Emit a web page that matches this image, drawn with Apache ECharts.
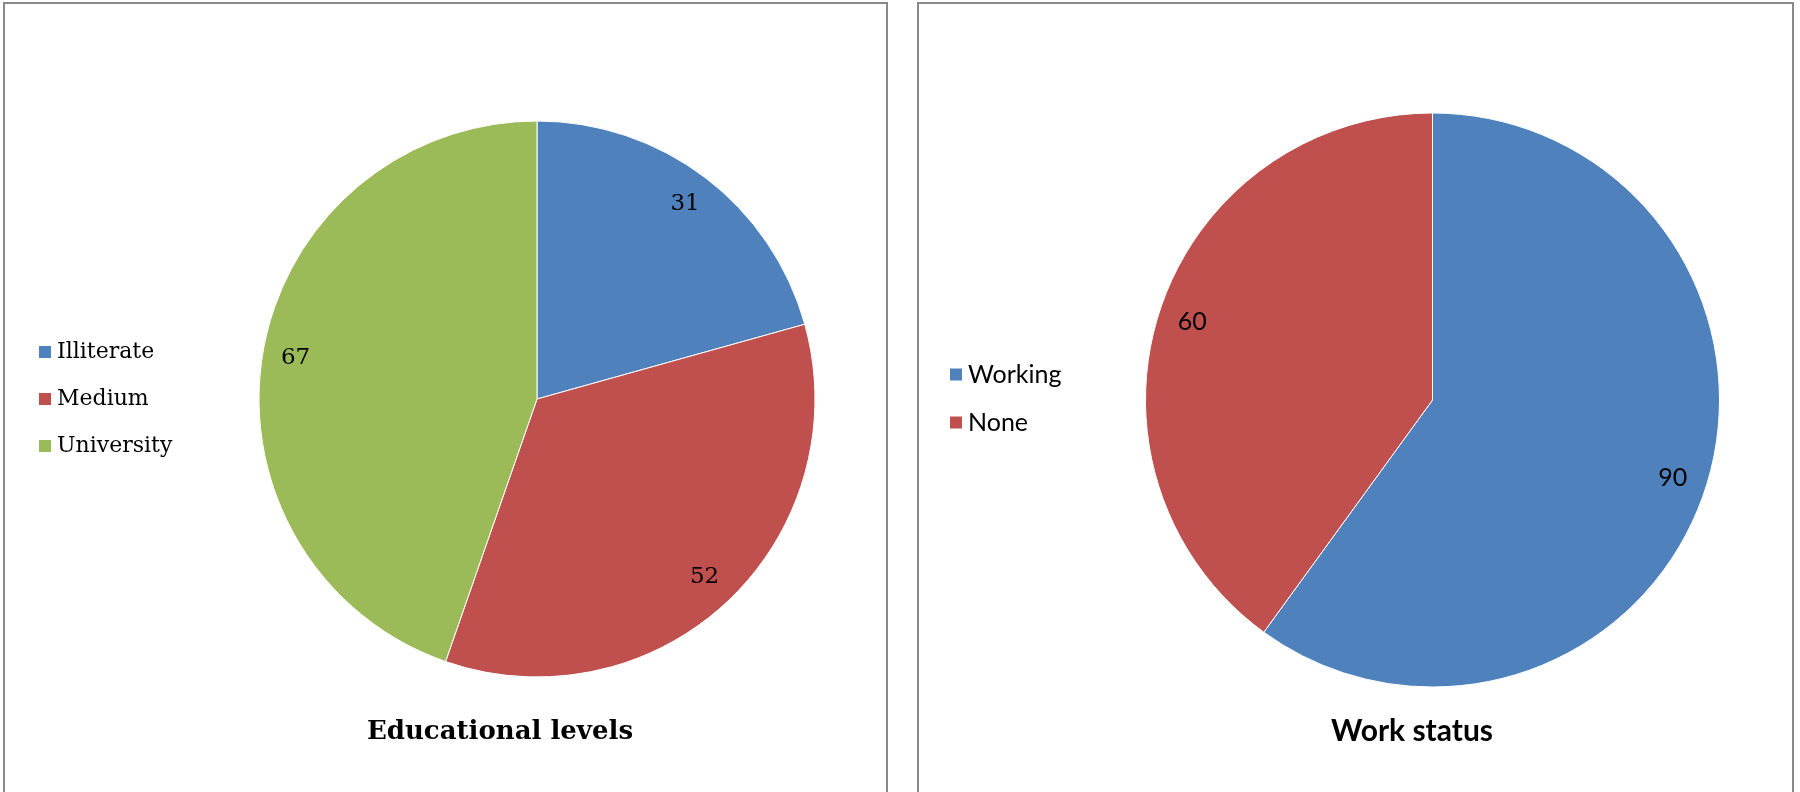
<!DOCTYPE html>
<html>
<head>
<meta charset="utf-8">
<script src="https://cdn.jsdelivr.net/npm/echarts@6/dist/echarts.min.js"></script>
<style>html,body{margin:0;padding:0;background:#fff;}#c{width:1800px;height:792px;}</style>
</head>
<body>
<div id="c"></div>
<script>
const eduCategories = ['Illiterate', 'Medium', 'University'];
const eduValues = [31, 52, 67];
const workCategories = ['Working', 'None'];
const workValues = [90, 60];
const eduTitle = 'Educational levels';
const workTitle = 'Work status';

const eduColors = ['#4F81BD', '#C0504D', '#9BBB59'];
const workColors = ['#4F81BD', '#C0504D'];

const serif = 'DejaVu Serif';
const sans = 'Lato';

function mk(cats, vals) { return cats.map((n, i) => ({ name: n, value: vals[i] })); }

const chart = echarts.init(document.getElementById('c'));
const R1 = 278, R2 = 287;
chart.setOption({
  animation: false,
  backgroundColor: '#fff',
  graphic: [
    { type: 'rect', shape: { x: 4, y: 3, width: 883, height: 820 }, style: { fill: 'none', stroke: '#898989', lineWidth: 2 }, silent: true },
    { type: 'rect', shape: { x: 918, y: 3, width: 875, height: 820 }, style: { fill: 'none', stroke: '#898989', lineWidth: 2 }, silent: true }
  ],
  title: [
    { text: eduTitle, left: 495, top: 714, textAlign: 'center',
      textStyle: { fontFamily: serif, fontWeight: 'bold', fontSize: 26, color: '#000' } },
    { text: workTitle, left: 1407, top: 711, textAlign: 'center',
      textStyle: { fontFamily: sans, fontWeight: 'bold', fontSize: 30, color: '#000' } }
  ],
  legend: [
    { data: eduCategories, orient: 'vertical', left: 37, top: 341, padding: 0, itemWidth: 14, itemHeight: 14, itemGap: 25,
      icon: 'rect', selectedMode: false,
      textStyle: { fontFamily: serif, fontSize: 22, lineHeight: 22, color: '#000' } },
    { data: workCategories, orient: 'vertical', left: 948, top: 362, padding: 0, itemWidth: 14, itemHeight: 14, itemGap: 23,
      icon: 'rect', selectedMode: false,
      textStyle: { fontFamily: sans, fontSize: 25, lineHeight: 25, color: '#000' } }
  ],
  series: [
    { type: 'pie', center: [537, 399], radius: [0, R1], startAngle: 90, clockwise: true,
      data: mk(eduCategories, eduValues), color: eduColors,
      itemStyle: { borderColor: '#fff', borderWidth: 1 },
      label: { show: false }, labelLine: { show: false }, emphasis: { disabled: true }, silent: true },
    { type: 'pie', center: [1432.5, 400], radius: [0, R2], startAngle: 90, clockwise: true,
      data: mk(workCategories, workValues), color: workColors,
      itemStyle: { borderColor: '#fff', borderWidth: 1 },
      label: { show: false }, labelLine: { show: false }, emphasis: { disabled: true }, silent: true },
    { type: 'pie', center: [537, 399], radius: [R1 * 0.74, R1], startAngle: 90, clockwise: true,
      data: mk(eduCategories, eduValues), legendHoverLink: false,
      itemStyle: { color: 'rgba(0,0,0,0)' },
      label: { show: true, position: 'inside', formatter: '{c}', fontFamily: serif, fontSize: 23, color: '#000' },
      labelLine: { show: false }, emphasis: { disabled: true }, silent: true },
    { type: 'pie', center: [1432.5, 400], radius: [R2 * 0.74, R2], startAngle: 90, clockwise: true,
      data: mk(workCategories, workValues), legendHoverLink: false,
      itemStyle: { color: 'rgba(0,0,0,0)' },
      label: { show: true, position: 'inside', formatter: '{c}', fontFamily: sans, fontSize: 25, color: '#000' },
      labelLine: { show: false }, emphasis: { disabled: true }, silent: true }
  ]
});
</script>
</body>
</html>
